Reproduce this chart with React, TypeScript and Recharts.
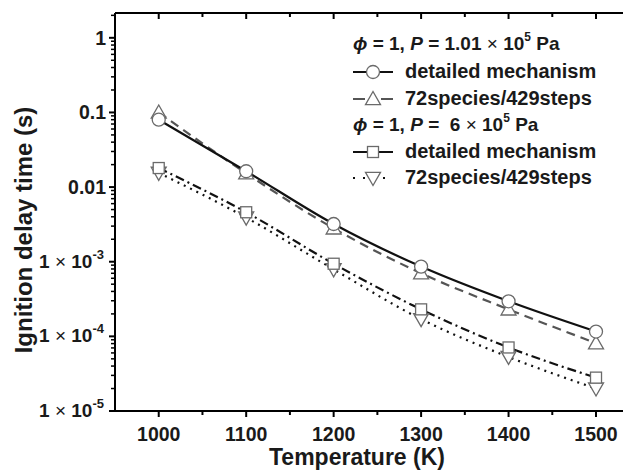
import React from 'react';
import { LineChart, Line, XAxis, YAxis } from 'recharts';

const temps = [1000, 1100, 1200, 1300, 1400, 1500];
const detailedLow = [0.08, 0.0163, 0.0032, 8.6e-4, 2.95e-4, 1.16e-4];
const reducedLow = [0.1, 0.0153, 0.0028, 7.0e-4, 2.3e-4, 8.1e-5];
const detailedHigh = [0.018, 0.0046, 9.4e-4, 2.3e-4, 7.1e-5, 2.8e-5];
const reducedHigh = [0.0155, 0.0039, 7.9e-4, 1.7e-4, 5.3e-5, 2.0e-5];

const xTicks = [1000, 1050, 1100, 1150, 1200, 1250, 1300, 1350, 1400, 1450, 1500];
const yMajor = [1e-5, 1e-4, 1e-3, 0.01, 0.1, 1];
const yMajorLabels = ['1×10-5', '1×10-4', '1×10-3', '0.01', '0.1', '1'];
const yTicks: number[] = [];
for (let d = -5; d <= 0; d++) {
  for (let m = 1; m <= 9; m++) {
    const v = m * Math.pow(10, d);
    if (v <= 2.1) yTicks.push(Number(v.toPrecision(3)));
  }
}

const data = temps.map((T, i) => ({
  T,
  dl: detailedLow[i],
  rl: reducedLow[i],
  dh: detailedHigh[i],
  rh: reducedHigh[i],
}));

const FONT = '"Liberation Sans", Arial, Helvetica, sans-serif';
const MK = '#6a6a6a';

const XTick = (props: any) => {
  const { x, y, payload } = props;
  const v = payload.value;
  const major = v % 100 === 0;
  return (
    <g>
      <line x1={x} x2={x} y1={y} y2={y + (major ? 6 : 4)} stroke="#000" strokeWidth={2} />
      {major && (
        <text x={x} y={y + 30} textAnchor="middle" fontSize={19.5} fontWeight="bold" fontFamily={FONT} fill="#1a1a1a">
          {v}
        </text>
      )}
    </g>
  );
};

const TopTick = (props: any) => {
  const { x, y, payload } = props;
  const major = payload.value % 100 === 0;
  return <line x1={x} x2={x} y1={y} y2={y + (major ? 6 : 4)} stroke="#000" strokeWidth={2} />;
};

const YTick = (props: any) => {
  const { x, y, payload } = props;
  const v = payload.value;
  const idx = yMajor.findIndex((m) => Math.abs(m - v) / m < 1e-6);
  const major = idx >= 0;
  let label: React.ReactNode = null;
  if (major) {
    const s = yMajorLabels[idx];
    if (s.startsWith('1×10')) {
      label = (
        <text x={x - 11} y={y + 6} textAnchor="end" fontSize={19} fontWeight="bold" fontFamily={FONT} fill="#1a1a1a">
          1<tspan fontWeight="normal"> × </tspan>10<tspan fontSize={13} dy={-9}>{s.slice(4)}</tspan>
        </text>
      );
    } else {
      label = (
        <text x={x - 9} y={y + 7} textAnchor="end" fontSize={19.5} fontWeight="bold" fontFamily={FONT} fill="#1a1a1a">
          {s}
        </text>
      );
    }
  }
  return (
    <g>
      <line x1={x - (major ? 6 : 4)} x2={x} y1={y} y2={y} stroke="#000" strokeWidth={major ? 2 : 1.5} />
      {label}
    </g>
  );
};

const CircleDot = (p: any) => (
  <circle key={p.index} cx={p.cx} cy={p.cy} r={6.5} fill="#fff" stroke={MK} strokeWidth={1.3} />
);
const UpTri = (p: any) => {
  const s = 7.5;
  const pts = `${p.cx},${p.cy - s} ${p.cx - s},${p.cy + s * 0.75} ${p.cx + s},${p.cy + s * 0.75}`;
  return <polygon key={p.index} points={pts} fill="#fff" stroke={MK} strokeWidth={1.3} />;
};
const DownTri = (p: any) => {
  const s = 7.5;
  const pts = `${p.cx},${p.cy + s} ${p.cx - s},${p.cy - s * 0.75} ${p.cx + s},${p.cy - s * 0.75}`;
  return <polygon key={p.index} points={pts} fill="#fff" stroke={MK} strokeWidth={1.3} />;
};
const SquareDot = (p: any) => (
  <rect key={p.index} x={p.cx - 5.5} y={p.cy - 5.5} width={11} height={11} fill="#fff" stroke={MK} strokeWidth={1.3} />
);

const textStyle: React.CSSProperties = {
  fontFamily: FONT,
  fontWeight: 'bold',
  fontSize: 20,
  color: '#1a1a1a',
  whiteSpace: 'nowrap',
  lineHeight: '20px',
};

const LegendSymbol = ({ dash, color, shape }: { dash?: string; color: string; shape: string }) => (
  <svg width={42} height={20} style={{ position: 'absolute', left: 353, top: -10 }}>
    <line x1={0} x2={40} y1={10} y2={10} stroke={color} strokeWidth={2.2} strokeDasharray={dash} />
    {shape === 'circle' && <circle cx={20} cy={10} r={6.5} fill="#fff" stroke={MK} strokeWidth={1.3} />}
    {shape === 'up' && <polygon points="20,2.5 12.5,15.6 27.5,15.6" fill="#fff" stroke={MK} strokeWidth={1.3} />}
    {shape === 'down' && <polygon points="20,17.5 12.5,4.4 27.5,4.4" fill="#fff" stroke={MK} strokeWidth={1.3} />}
    {shape === 'square' && <rect x={14.5} y={4.5} width={11} height={11} fill="#fff" stroke={MK} strokeWidth={1.3} />}
  </svg>
);

const Row = ({ cy, children }: { cy: number; children: React.ReactNode }) => (
  <div style={{ position: 'absolute', left: 0, top: cy, width: 631, height: 0 }}>{children}</div>
);

const Label = ({ left, size, children }: { left: number; size?: number; children: React.ReactNode }) => (
  <div style={{ ...textStyle, fontSize: size || 20, position: 'absolute', left, top: -11 }}>{children}</div>
);

const sup = { fontSize: 12, verticalAlign: 9, lineHeight: 0 } as React.CSSProperties;

const PhiLine = ({ p }: { p: React.ReactNode }) => (
  <Label left={353} size={19}>
    <i>ϕ</i> = 1, <i>P</i> = {p}
  </Label>
);

export default function App() {
  return (
    <div style={{ position: 'relative', width: 631, height: 471, marginLeft: -8, marginTop: -8, background: '#fff', overflow: 'hidden' }}>
      <LineChart width={631} height={471} data={data} margin={{ top: 0, right: 0, bottom: 0, left: 0 }}>
        <XAxis
          dataKey="T"
          type="number"
          domain={[950, 1540]}
          allowDataOverflow
          ticks={xTicks}
          interval={0}
          height={60}
          tickSize={0}
          tickMargin={0}
          tickLine={false}
          tick={<XTick />}
          axisLine={{ stroke: '#000', strokeWidth: 2 }}
        />
        <XAxis
          xAxisId="top"
          orientation="top"
          dataKey="T"
          type="number"
          domain={[950, 1540]}
          allowDataOverflow
          ticks={xTicks}
          interval={0}
          height={13}
          tickSize={0}
          tickMargin={0}
          tickLine={false}
          tick={<TopTick />}
          axisLine={{ stroke: '#000', strokeWidth: 2 }}
        />
        <YAxis
          type="number"
          scale="log"
          domain={[1e-5, 2.15]}
          allowDataOverflow
          ticks={yTicks}
          interval={0}
          width={115}
          tickSize={0}
          tickMargin={0}
          tickLine={false}
          tick={<YTick />}
          axisLine={{ stroke: '#000', strokeWidth: 2 }}
        />
        <Line dataKey="rl" type="monotone" stroke="#555" strokeWidth={2.2} strokeDasharray="9 6" dot={UpTri} isAnimationActive={false} />
        <Line dataKey="dl" type="monotone" stroke="#111" strokeWidth={2.2} dot={CircleDot} isAnimationActive={false} />
        <Line dataKey="rh" type="monotone" stroke="#111" strokeWidth={2.2} strokeDasharray="2 5" dot={DownTri} isAnimationActive={false} />
        <Line dataKey="dh" type="monotone" stroke="#111" strokeWidth={2.2} strokeDasharray="9 4 2 4" dot={SquareDot} isAnimationActive={false} />
      </LineChart>

      <Row cy={45}>
        <PhiLine p={<>1.01 <span style={{ fontWeight: 'normal' }}>×</span> 10<sup style={sup}>5</sup> Pa</>} />
      </Row>
      <Row cy={72}>
        <LegendSymbol color="#111" shape="circle" />
        <Label left={405}>detailed mechanism</Label>
      </Row>
      <Row cy={98.5}>
        <LegendSymbol color="#555" shape="up" dash="12 16" />
        <Label left={405}>72species/429steps</Label>
      </Row>
      <Row cy={126}>
        <PhiLine p={<>&nbsp;6 <span style={{ fontWeight: 'normal' }}>×</span> 10<sup style={sup}>5</sup> Pa</>} />
      </Row>
      <Row cy={152}>
        <LegendSymbol color="#111" shape="square" />
        <Label left={405}>detailed mechanism</Label>
      </Row>
      <Row cy={178}>
        <LegendSymbol color="#111" shape="down" dash="2 8" />
        <Label left={405}>72species/429steps</Label>
      </Row>

      <div style={{ ...textStyle, fontSize: 23, lineHeight: '23px', position: 'absolute', left: 357, top: 446, transform: 'translateX(-50%)' }}>
        Temperature (K)
      </div>
      <div
        style={{
          ...textStyle,
          fontSize: 24,
          lineHeight: '24px',
          position: 'absolute',
          left: 24,
          top: 230,
          transform: 'translate(-50%, -50%) rotate(-90deg)',
        }}
      >
        Ignition delay time (s)
      </div>
    </div>
  );
}
